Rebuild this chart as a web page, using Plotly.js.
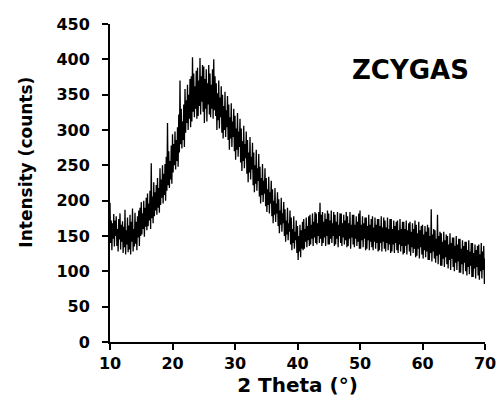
<!DOCTYPE html>
<html>
<head>
<meta charset="utf-8">
<script src="https://cdn.plot.ly/plotly-3.0.1.min.js"></script>
<style>html,body{margin:0;padding:0;background:#fff;}#chart{width:497px;height:403px;}</style>
</head>
<body>
<div id="chart"></div>
<script>
// 2-theta scan: starts at 10 deg, step 0.1 deg (x0 / dx of the trace)
const thetaStart = 10;
const thetaStep = 0.1;
// Intensity (counts), 10 readings per degree (one row per degree)
const intensity = [
  197,140,172,130,168,146,181,135,172,150, // 10
  178,136,160,128,174,145,182,131,166,142, // 11
  171,126,163,134,187,124,158,138,176,127, // 12
  165,131,180,124,170,142,189,128,160,135, // 13
  183,139,170,130,178,148,186,136,190,150, // 14
  198,152,182,160,200,149,190,163,204,158, // 15
  210,164,196,172,214,160,253,175,206,168, // 16
  226,178,212,186,222,180,232,190,218,183, // 17
  246,194,230,204,250,196,238,208,252,200, // 18
  262,214,310,222,270,218,256,230,278,224, // 19
  294,240,280,250,298,244,286,256,304,248, // 20
  322,268,370,280,330,274,312,286,336,276, // 21
  358,296,342,310,364,300,350,316,372,304, // 22
  376,312,403,326,380,318,362,330,384,316, // 23
  388,320,370,334,402,322,376,340,392,326, // 24
  390,310,372,330,386,312,366,336,392,322, // 25
  380,318,364,330,386,316,400,328,376,320, // 26
  366,300,352,314,370,302,346,318,362,296, // 27
  350,288,334,300,354,290,328,304,348,286, // 28
  336,272,318,288,338,276,312,290,330,270, // 29
  320,258,302,272,324,262,298,276,316,254, // 30
  302,242,284,256,306,246,280,260,298,238, // 31
  286,226,268,240,290,230,262,244,282,222, // 32
  268,212,250,224,272,214,246,228,266,206, // 33
  248,196,232,208,252,198,228,210,246,192, // 34
  232,184,216,194,234,182,212,196,228,178, // 35
  216,168,200,180,218,170,196,182,212,164, // 36
  202,154,186,166,204,156,182,168,198,150, // 37
  188,142,172,152,190,144,168,156,186,138, // 38
  176,130,160,140,178,132,156,144,172,126, // 39
  164,116,150,128,166,120,158,132,170,130, // 40
  174,132,160,142,176,134,164,144,178,136, // 41
  180,138,166,146,182,136,170,148,184,140, // 42
  182,138,168,150,184,140,197,146,180,136, // 43
  184,140,170,148,182,136,174,150,186,138, // 44
  182,138,172,146,186,140,168,150,184,136, // 45
  180,138,170,146,184,134,166,150,182,140, // 46
  182,136,168,148,180,138,172,144,184,134, // 47
  178,136,168,146,184,132,166,148,180,138, // 48
  180,134,166,146,178,136,170,142,182,132, // 49
  186,132,166,144,178,134,168,146,176,130, // 50
  176,132,164,144,180,130,166,142,174,134, // 51
  178,130,162,142,176,132,166,140,174,128, // 52
  174,130,164,140,178,128,162,142,176,132, // 53
  172,128,162,140,176,130,160,138,174,126, // 54
  174,128,160,138,172,126,164,140,170,130, // 55
  172,126,158,138,174,128,160,136,170,124, // 56
  170,126,160,136,172,124,158,138,168,128, // 57
  170,122,156,134,168,126,160,132,172,120, // 58
  166,122,154,132,170,118,158,134,164,124, // 59
  166,118,152,130,164,120,156,128,166,116, // 60
  162,116,150,126,188,114,152,128,160,118, // 61
  158,112,146,122,180,110,150,124,156,108, // 62
  154,108,142,118,156,106,144,120,152,110, // 63
  150,104,138,116,154,102,140,118,148,106, // 64
  148,100,136,112,150,102,138,114,146,98,  // 65
  146,98,132,110,144,96,136,112,142,100,   // 66
  142,94,130,106,144,96,128,108,140,92,    // 67
  140,92,126,104,138,90,130,106,136,94,    // 68
  138,88,124,100,140,90,128,102,136,82,    // 69
  118                                      // 70
];
const xTickVals = [10,20,30,40,50,60,70];
const yTickVals = [0,50,100,150,200,250,300,350,400,450];
const sampleLabel = 'ZCYGAS';
const xTitle = '2 Theta (°)';
const yTitle = 'Intensity (counts)';

const FONT = 'DejaVu Sans, Arial, sans-serif';
const trace = {
  type: 'scatter', mode: 'lines',
  x0: thetaStart, dx: thetaStep, y: intensity,
  line: {color: '#000000', width: 1.3},
  hoverinfo: 'skip'
};
const layout = {
  width: 497, height: 403,
  margin: {l: 110, r: 12, t: 24, b: 61},
  paper_bgcolor: '#fff', plot_bgcolor: '#fff',
  showlegend: false,
  font: {family: FONT, color: '#000', size: 16},
  xaxis: {
    range: [10, 70], tickvals: xTickVals, ticktext: xTickVals.map(String),
    showgrid: false, zeroline: false, showline: true, linecolor: '#000', linewidth: 2,
    ticks: 'outside', ticklen: 6, tickwidth: 2, tickcolor: '#000',
    tickfont: {family: FONT, size: 16, color: '#000', weight: 'bold'},
    title: {text: '<b>' + xTitle + '</b>', font: {family: FONT, size: 20, color: '#000'}, standoff: 3}
  },
  yaxis: {
    range: [0, 450], tickvals: yTickVals, ticktext: yTickVals.map(String),
    showgrid: false, zeroline: false, showline: true, linecolor: '#000', linewidth: 2,
    ticks: 'outside', ticklen: 6, tickwidth: 2, tickcolor: '#000',
    tickfont: {family: FONT, size: 16, color: '#000', weight: 'bold'},
    ticklabelstandoff: 9
  },
  annotations: [
    {text: '<b>' + sampleLabel + '</b>', xref: 'paper', yref: 'paper', x: 0.80, y: 0.856,
     xanchor: 'center', yanchor: 'middle',
     showarrow: false, font: {family: FONT, size: 26, color: '#000'}},
    {text: '<b>' + yTitle + '</b>', xref: 'paper', yref: 'paper', x: -0.224, y: 0.564, textangle: -90,
     xanchor: 'center', yanchor: 'middle',
     showarrow: false, font: {family: FONT, size: 17, color: '#000'}}
  ]
};
Plotly.newPlot('chart', [trace], layout, {displayModeBar: false, staticPlot: true});
</script>
</body>
</html>
